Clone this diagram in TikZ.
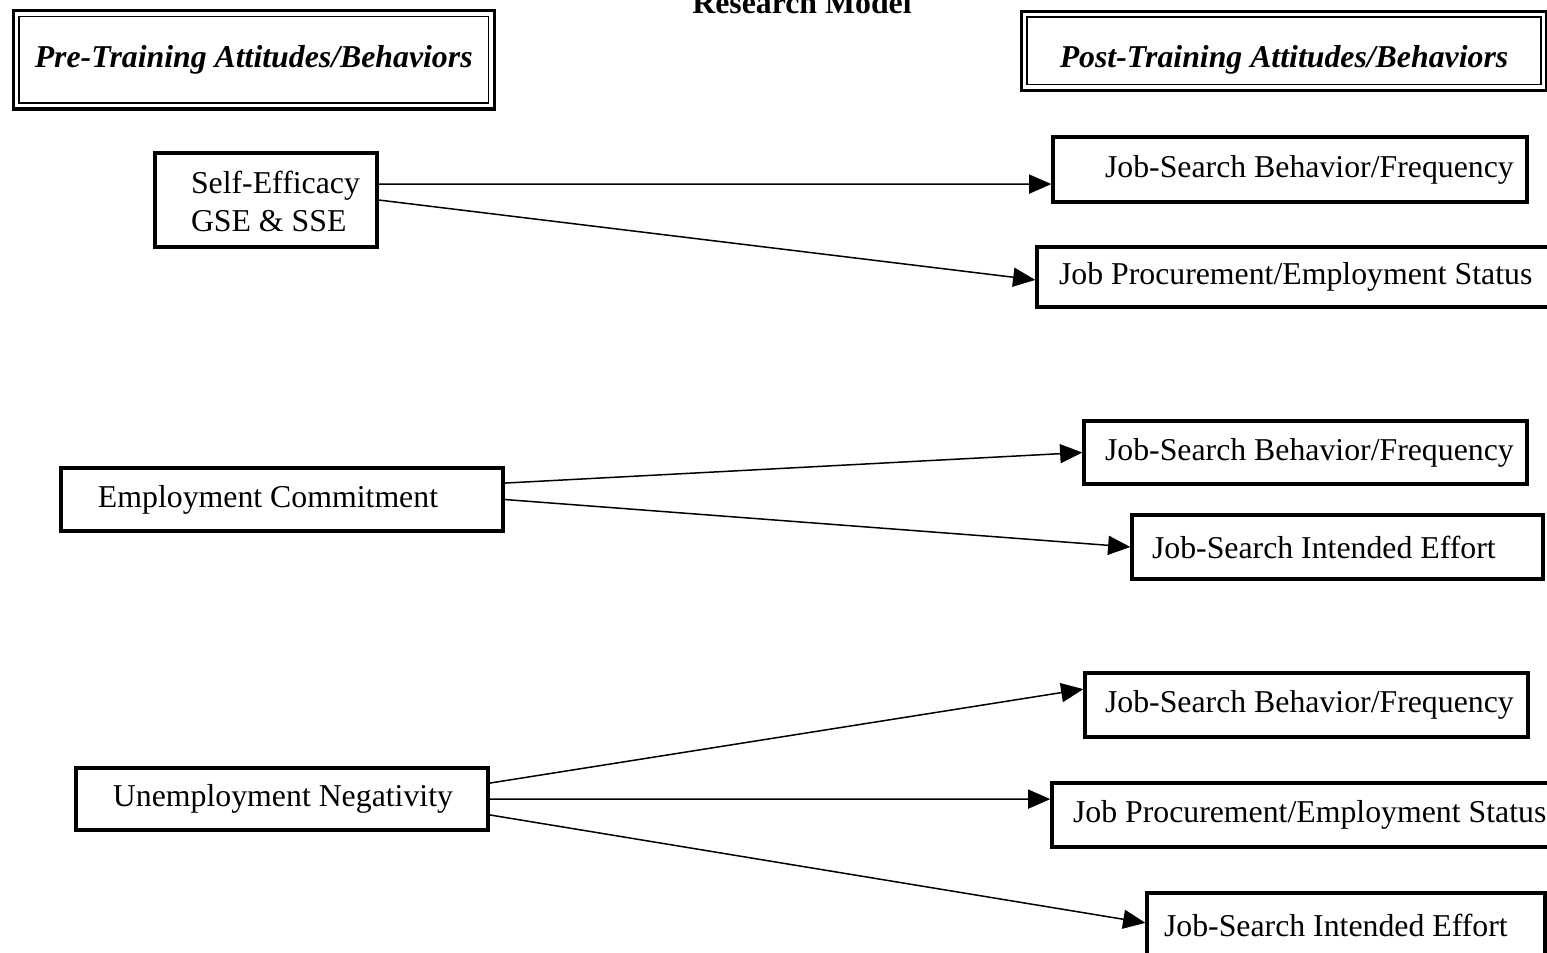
\documentclass[tikz,border=0pt]{standalone}
\usepackage{fontspec}
\setmainfont{Liberation Serif}
\usetikzlibrary{arrows.meta}
\newlength{\px}
\setlength{\px}{0.3774pt}
\newcommand{\padtext}[3]{\makebox[#1\px][l]{\hspace*{#2\px}#3}}

\begin{document}
\begin{tikzpicture}[x=\px,y=-\px,
    box/.style={draw,line width=3.3\px,inner xsep=0pt,inner ysep=0pt,
                font=\fontsize{12}{14}\selectfont},
    head/.style={draw,line width=1.7\px,inner sep=0pt,
                 font=\fontsize{12}{14}\selectfont\bfseries\itshape},
    arr/.style={-{Triangle[length=8.4pt,width=7.2pt]},line width=1.5\px}]
    \useasboundingbox (0,0) rectangle (1547,952);
    \clip (0,0) rectangle (1547,952);
    % title and column headings
    \node[font=\fontsize{12}{14}\selectfont\bfseries,anchor=base]
      (title) at (802,13) {Research Model};
    \node[head,minimum width=469.3\px,minimum height=86.7\px]
      (pre) at (253.7,59.7) {Pre-Training Attitudes/Behaviors};
    \node[head,minimum width=514\px,minimum height=67.3\px,
          text height=14.9pt,text depth=2.6pt]
      (post) at (1284,50.7) {Post-Training Attitudes/Behaviors};
    \foreach \n in {pre,post}
      \draw[line width=3.2\px] ([shift={(-5,5)}]\n.south west)
        rectangle ([shift={(5,-5)}]\n.north east);
    % pre-training boxes
    \node[box,minimum height=94\px,text height=13.6pt,text depth=18.2pt]
      (selfeff) at (266,200)
      {\padtext{222}{36}{\begin{tabular}[t]{@{}l@{}}Self-Efficacy\\GSE \& SSE\end{tabular}}};
    \node[box,minimum height=63\px] (empcom) at (282,499.5)
      {\padtext{442}{37}{Employment Commitment}};
    \node[box,minimum height=62\px] (unneg) at (282,799)
      {\padtext{412}{37}{Unemployment Negativity}};
    % post-training boxes
    \node[box,minimum height=65\px] (jsb1) at (1290,169.5)
      {\padtext{474}{52}{Job-Search Behavior/Frequency}};
    \node[box,minimum height=60\px] (jpe1) at (1298.5,277)
      {\padtext{523}{22}{Job Procurement/Employment Status}};
    \node[box,minimum height=63\px] (jsb2) at (1305.5,452.5)
      {\padtext{443}{21}{Job-Search Behavior/Frequency}};
    \node[box,minimum height=64\px] (jie2) at (1337.5,547)
      {\padtext{411}{20}{Job-Search Intended Effort}};
    \node[box,minimum height=64\px] (jsb3) at (1306.5,705)
      {\padtext{443}{20}{Job-Search Behavior/Frequency}};
    \node[box,minimum height=64\px] (jpe3) at (1311,815)
      {\padtext{518}{21}{Job Procurement/Employment Status}};
    \node[box,minimum height=64\px] (jie3) at (1346,925)
      {\padtext{398}{17}{Job-Search Intended Effort}};
    % paths
    \draw[arr] ([yshift=6pt]selfeff.east) -- ([yshift=-5.5pt]jsb1.west);
    \draw[arr] (selfeff.east) -- ([yshift=-1.1pt]jpe1.west);
    \draw[arr] ([yshift=6.2pt]empcom.east) -- (jsb2.west);
    \draw[arr] (empcom.east) -- (jie2.west);
    \draw[arr] ([yshift=6pt]unneg.east) -- ([yshift=6pt]jsb3.west);
    \draw[arr] (unneg.east) -- ([yshift=6pt]jpe3.west);
    \draw[arr] ([yshift=-6pt]unneg.east) -- ([yshift=0.8pt]jie3.west);
  \end{tikzpicture}
\end{document}
